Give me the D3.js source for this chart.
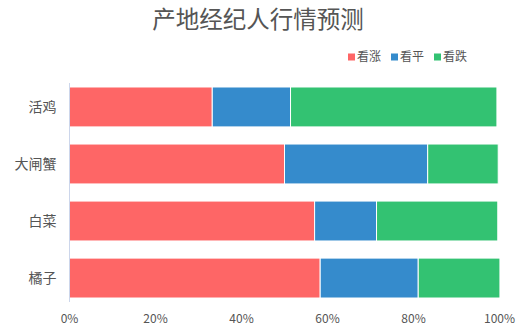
<!DOCTYPE html>
<html>
<head>
<meta charset="utf-8">
<script src="https://cdn.jsdelivr.net/npm/d3@7"></script>
<style>
  body { margin: 0; background: #fff; }
  text { font-family: "Noto Sans CJK SC", "Noto Sans", sans-serif; }
</style>
</head>
<body>
<script>
var categories = ["活鸡", "大闸蟹", "白菜", "橘子"];
var seriesNames = ["看涨", "看平", "看跌"];
var rise = [33.2, 50.0, 57.0, 58.3];
var flat = [18.2, 33.3, 14.4, 22.8];
var fall = [48.0, 16.4, 28.2, 19.0];
var xTicks = [0, 20, 40, 60, 80, 100];
var colors = ["#fe6666", "#358bcc", "#33c272"];

var width = 531, height = 336;
var margin = {top: 83, right: 31, bottom: 34, left: 69.5};
var w = width - margin.left - margin.right;
var h = height - margin.top - margin.bottom;

var svg = d3.select("body").append("svg")
    .attr("width", width)
    .attr("height", height);

svg.append("text")
    .attr("x", 258)
    .attr("y", 28)
    .attr("text-anchor", "middle")
    .attr("font-size", "23.5px")
    .style("fill", "#555")
    .text("产地经纪人行情预测");

var data = categories.map((c, i) => ({cat: c, "看涨": rise[i], "看平": flat[i], "看跌": fall[i]}));
var stacked = d3.stack().keys(seriesNames)(data);

var g = svg.append("g")
    .attr("transform", "translate(" + margin.left + ", " + margin.top + ")");

var x = d3.scaleLinear().domain([0, 100]).range([0, 430]);
var y = d3.scaleBand().domain(categories).range([0, h]).paddingInner(0.3).paddingOuter(0.07);

stacked.forEach((s, k) => {
    g.selectAll(".s" + k)
        .data(s)
        .enter()
        .append("rect")
        .attr("x", (d) => x(d[0]))
        .attr("y", (d) => y(d.data.cat))
        .attr("width", (d) => x(d[1]) - x(d[0]))
        .attr("height", y.bandwidth())
        .attr("fill", colors[k])
        .attr("stroke", "#fff")
        .attr("stroke-width", 1);
});

// y axis line
g.append("line")
    .attr("x1", 0).attr("x2", 0)
    .attr("y1", 0).attr("y2", h)
    .attr("stroke", "#ccd6eb");

g.selectAll(".ylab")
    .data(categories)
    .enter()
    .append("text")
    .attr("x", -13)
    .attr("y", (d) => y(d) + y.bandwidth() / 2)
    .attr("dy", "0.35em")
    .attr("text-anchor", "end")
    .attr("font-size", "14px")
    .style("fill", "#555")
    .text((d) => d);

g.selectAll(".xlab")
    .data(xTicks)
    .enter()
    .append("text")
    .attr("x", (d) => x(d))
    .attr("y", h + 17)
    .attr("dy", "0.35em")
    .attr("text-anchor", "middle")
    .attr("font-size", "12px")
    .style("fill", "#555")
    .text((d) => d + "%");

// legend
var legendX = [348, 391, 434];
var legend = svg.selectAll(".leg")
    .data(seriesNames)
    .enter()
    .append("g")
    .attr("transform", (d, i) => "translate(" + legendX[i] + ", 57)");
legend.append("rect")
    .attr("x", 0).attr("y", -3.5)
    .attr("width", 7).attr("height", 7)
    .attr("fill", (d, i) => colors[i]);
legend.append("text")
    .attr("x", 9)
    .attr("dy", "0.35em")
    .attr("font-size", "12px")
    .style("fill", "#555")
    .text((d) => d);
</script>
</body>
</html>
